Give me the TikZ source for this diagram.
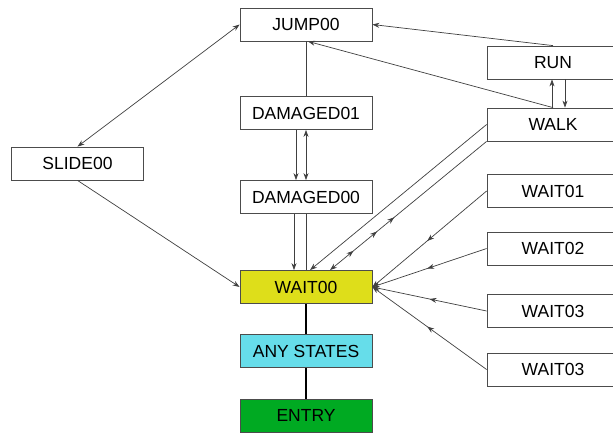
\documentclass[tikz,border=0pt]{standalone}
\usepackage{fontspec}
\setmainfont{Liberation Sans}
\usetikzlibrary{arrows.meta,decorations.markings}
\definecolor{waitcol}{RGB}{222,222,26}
\definecolor{anycol}{RGB}{102,221,234}
\definecolor{entrycol}{RGB}{0,170,34}
\tikzset{
  state/.style={rectangle, draw=black!70, line width=0.8pt, minimum width=132pt, minimum height=33pt, inner sep=0pt, font=\fontsize{17.5}{20}\selectfont},
  link/.style={draw=black!75, line width=0.7pt},
  tip/.style={-{Stealth[length=7pt,width=5pt]}},
  midarr/.style={postaction={decorate}, decoration={markings, mark=at position #1 with {\arrow{Stealth[length=7pt,width=5pt]}}}}
}
\begin{document}
\begin{tikzpicture}[x=1pt, y=-1pt]
        \path[use as bounding box, fill=white] (0,0) rectangle (613,432);
        % states
        \node[state] (jump) at (306,24.5){JUMP00};
        \node[state] (dmg1) at (306,113){DAMAGED01};
        \node[state] (dmg0) at (306,197){DAMAGED00};
        \node[state, fill=waitcol] (wait0) at (306,287){WAIT00};
        \node[state, fill=anycol] (any) at (306,351){ANY STATES};
        \node[state, fill=entrycol] (entry) at (306,415.5){ENTRY};
        \node[state] (slide) at (77.5,163.5){SLIDE00};
        \node[state] (run) at (553,62.5){RUN};
        \node[state] (walk) at (553,124.5){WALK};
        \node[state] (w1) at (553,191){WAIT01};
        \node[state] (w2) at (553,248.5){WAIT02};
        \node[state] (w3) at (553,311){WAIT03};
        \node[state] (w4) at (553,369.5){WAIT03};
        % transitions
        \draw[link] (jump) -- (dmg1);
        \draw[link, tip] ([xshift=-10pt]dmg1.south) -- ([xshift=-10pt]dmg0.north);
        \draw[link, {Stealth[length=7pt,width=5pt]}-{Stealth[length=7pt,width=5pt]}] (dmg1.south) -- (dmg0.north);
        \draw[link, tip] ([xshift=-12pt]dmg0.south) -- ([xshift=-12pt]wait0.north);
        \draw[link] (dmg0.south) -- (wait0.north);
        \draw[link, {Stealth[length=7pt,width=5pt]}-{Stealth[length=7pt,width=5pt]}] (slide.north) -- (jump.west);
        \draw[link, tip] (slide.south) -- (wait0.west);
        \draw[link, tip] (run.north) -- (jump.east);
        \draw[link, tip] (walk.north) -- ([xshift=2pt]jump.south);
        \draw[link, tip] ([xshift=-1pt]walk.north) -- ([xshift=-1pt]run.south);
        \draw[link, tip] ([xshift=12pt]run.south) -- ([xshift=12pt]walk.north);
        \draw[link, tip] (walk.west) -- ([xshift=4pt]wait0.north);
        \draw[link, {Stealth[length=7pt,width=5pt]}-, postaction={decorate},
          decoration={markings,
            mark=at position 0.15 with {\arrow{Stealth[length=7pt,width=5pt]}},
            mark=at position 0.30 with {\arrow{Stealth[length=7pt,width=5pt]}},
            mark=at position 0.41 with {\arrow{Stealth[length=7pt,width=5pt]}}}]
          ([xshift=24pt]wait0.north) -- (walk.south west);
        \draw[link, tip, midarr=0.52] (w1.west) -- (wait0.east);
        \draw[link, tip, midarr=0.52] (w2.west) -- (wait0.east);
        \draw[link, tip, midarr=0.5] (w3.west) -- (wait0.east);
        \draw[link, tip, midarr=0.52] (w4.west) -- (wait0.east);
        \draw[line width=2pt] (wait0) -- (any);
        \draw[line width=1.5pt] (any) -- (entry);
\end{tikzpicture}
\end{document}
